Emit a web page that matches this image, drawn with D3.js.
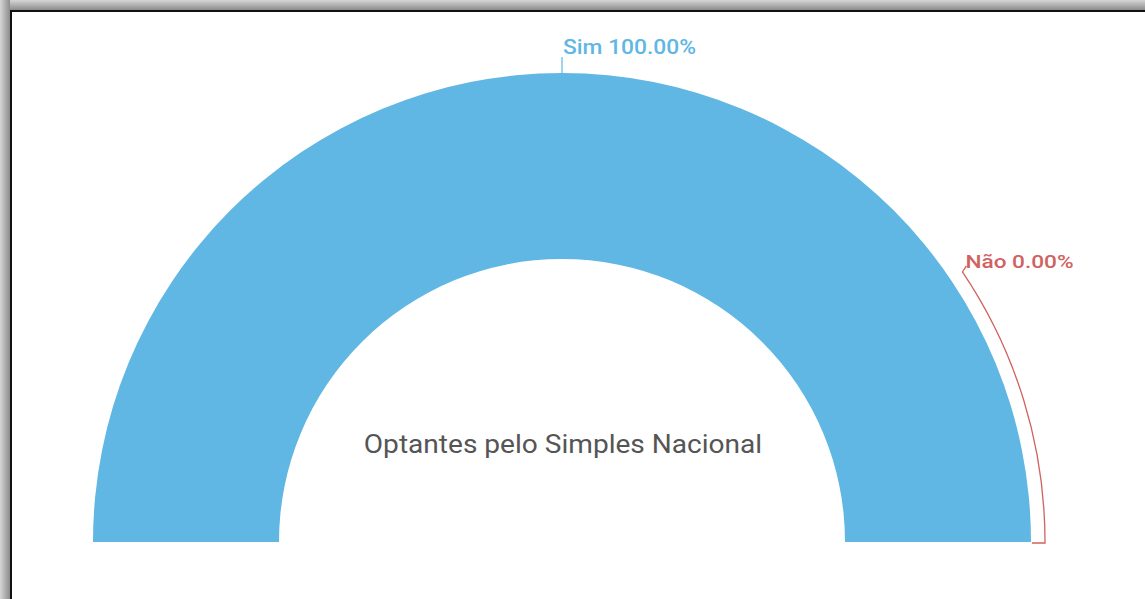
<!DOCTYPE html>
<html>
<head>
<meta charset="utf-8">
<script src="https://cdn.jsdelivr.net/npm/d3@7"></script>
<style>
  html, body { margin: 0; padding: 0; background: #fff; }
  svg { display: block; }
  text { font-family: Roboto, "Noto Sans", sans-serif; }
</style>
</head>
<body>
<svg id="chart" width="1145" height="599"></svg>
<script>
// Semi-donut: share of companies opting into Simples Nacional
const categories = ["Sim", "Não"];
const values = [100, 0];
const colors = ["#60b7e3", "#d0625f"];
const title = "Optantes pelo Simples Nacional";

const W = 1145, H = 599;
const cx = 562, cy = 542;
const outerR = 469, innerR = 283;

const svg = d3.select("#chart");

// framed panel with a soft grey shadow along top and left
const defs = svg.append("defs");
const gTop = defs.append("linearGradient").attr("id", "shTop").attr("x1", 0).attr("y1", 0).attr("x2", 0).attr("y2", 1);
gTop.append("stop").attr("offset", "0%").attr("stop-color", "#d6d6d6");
gTop.append("stop").attr("offset", "100%").attr("stop-color", "#8c8c8c");
const gLeft = defs.append("linearGradient").attr("id", "shLeft").attr("x1", 0).attr("y1", 0).attr("x2", 1).attr("y2", 0);
gLeft.append("stop").attr("offset", "0%").attr("stop-color", "#d6d6d6");
gLeft.append("stop").attr("offset", "100%").attr("stop-color", "#8c8c8c");

svg.append("rect").attr("x", 0).attr("y", 0).attr("width", W).attr("height", H).attr("fill", "#fff");
svg.append("rect").attr("x", 0).attr("y", 0).attr("width", W).attr("height", 10).attr("fill", "url(#shTop)");
svg.append("rect").attr("x", 0).attr("y", 0).attr("width", 10).attr("height", H).attr("fill", "url(#shLeft)");
svg.append("rect").attr("x", 10).attr("y", 10).attr("width", W - 10).attr("height", 2).attr("fill", "#111");
svg.append("rect").attr("x", 10).attr("y", 10).attr("width", 2).attr("height", H - 10).attr("fill", "#111");

const pie = d3.pie().sort(null).startAngle(-Math.PI / 2).endAngle(Math.PI / 2);
const arcs = pie(values);
const arc = d3.arc().innerRadius(innerR).outerRadius(outerR);

const g = svg.append("g").attr("transform", `translate(${cx},${cy})`);

g.selectAll("path.slice")
  .data(arcs)
  .join("path")
  .attr("class", "slice")
  .attr("d", arc)
  .attr("fill", (d, i) => colors[i]);

const total = d3.sum(values);
const fmt = v => (v / total * 100).toFixed(2) + "%";
const pt = (a, r) => [Math.sin(a) * r, -Math.cos(a) * r];

// text placed at (x, y) with a slightly widened face
function label(x, y, txt, opts) {
  return g.append("text")
    .attr("transform", `translate(${x},${y}) scale(${opts.sx},1)`)
    .attr("text-anchor", opts.anchor || "start")
    .attr("fill", opts.fill)
    .attr("font-size", opts.size)
    .attr("font-weight", opts.weight || 400)
    .text(txt);
}

// label for the wide slice: short radial tick at its mid-angle
{
  const d = arcs[0];
  const a = (d.startAngle + d.endAngle) / 2;
  const p0 = pt(a, outerR), p1 = pt(a, outerR + 16);
  g.append("line")
    .attr("x1", p0[0]).attr("y1", p0[1]).attr("x2", p1[0]).attr("y2", p1[1])
    .attr("stroke", colors[0]).attr("stroke-width", 1.2);
  label(p1[0] + 1, p1[1] - 3, `${categories[0]} ${fmt(d.value)}`,
    { fill: colors[0], size: 20, weight: 500, sx: 1.14 });
}

// label for the empty slice: leader follows the rim up to a free spot
{
  const d = arcs[1];
  const a = d.startAngle;
  const rimR = 483;
  const labelA = 56 * Math.PI / 180;
  const path = d3.path();
  const s = pt(a, outerR + 1);
  path.moveTo(s[0], s[1] + 1);
  const s2 = pt(a, rimR);
  path.lineTo(s2[0], s2[1] + 1);
  path.arc(0, 0, rimR, a - Math.PI / 2, labelA - Math.PI / 2, true);
  const e = pt(labelA, rimR);
  path.lineTo(e[0] + 4, e[1] - 6);
  g.append("path")
    .attr("d", path.toString())
    .attr("fill", "none")
    .attr("stroke", colors[1]).attr("stroke-width", 1.3);
  label(e[0] + 3, e[1] - 4, `${categories[1]} ${fmt(d.value)}`,
    { fill: colors[1], size: 19, weight: 500, sx: 1.19 });
}

// centre caption
label(1, -89, title, { fill: "#555", size: 26, weight: 400, sx: 1.08, anchor: "middle" });
</script>
</body>
</html>
